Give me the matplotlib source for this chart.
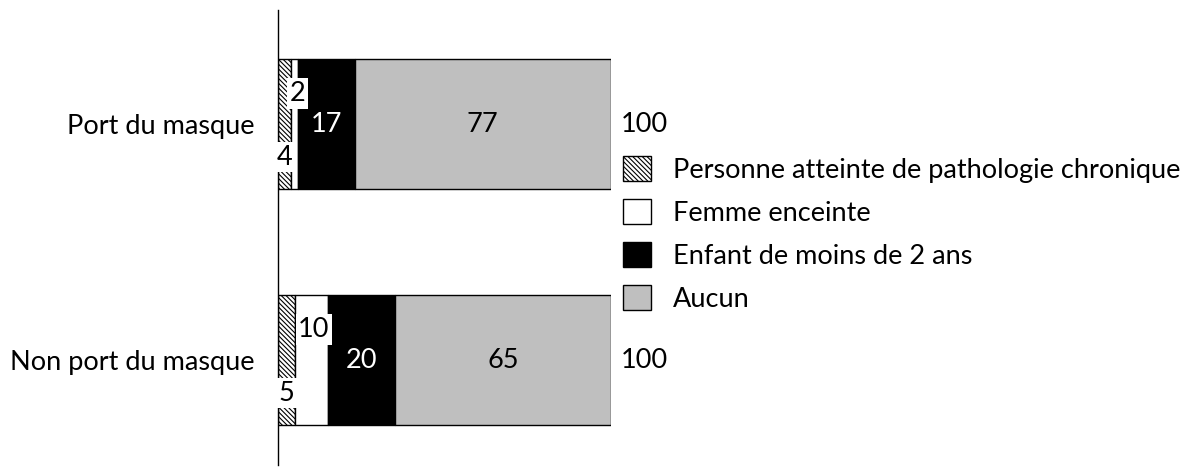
import matplotlib
matplotlib.use("Agg")
import matplotlib.pyplot as plt
from matplotlib.patches import Patch
import numpy as np

plt.rcParams['font.family'] = ['Lato', 'DejaVu Sans']
plt.rcParams['hatch.linewidth'] = 0.8

categories = ["Port du masque", "Non port du masque"]
series_names = ["Personne atteinte de pathologie chronique", "Femme enceinte",
                "Enfant de moins de 2 ans", "Aucun"]
values = {
    "Personne atteinte de pathologie chronique": [4, 5],
    "Femme enceinte": [2, 10],
    "Enfant de moins de 2 ans": [17, 20],
    "Aucun": [77, 65],
}
totals = [100, 100]

colors = ["white", "white", "black", "#bfbfbf"]
hatches = ["\\" * 7, None, None, None]
text_colors = ["black", "black", "white", "black"]

W, H = 1202, 475
fig = plt.figure(figsize=(W / 100, H / 100), dpi=100)
ax = fig.add_axes([278 / W, (H - 465) / H, 333 / W, 455 / H])

y = np.arange(len(categories))
left = np.zeros(len(categories))
FS = 19.5
for i, name in enumerate(series_names):
    vals = np.array(values[name], dtype=float)
    ax.barh(y, vals, left=left, height=0.55, color=colors[i],
            edgecolor="black", linewidth=1.0, hatch=hatches[i])
    for j, v in enumerate(vals):
        cx = left[j] + v / 2
        cy = y[j]
        if i == 0:
            ax.text(cx, cy + 0.14, f"{int(v)}", ha="center", va="center",
                    fontsize=FS, color="black",
                    bbox=dict(facecolor="white", edgecolor="none", pad=2))
        elif i == 1:
            ax.text(cx + 0.8, cy - 0.13, f"{int(v)}", ha="center", va="center",
                    fontsize=FS, color="black",
                    bbox=dict(facecolor="white", edgecolor="none", pad=2))
        else:
            ax.text(cx, cy, f"{int(v)}", ha="center", va="center",
                    fontsize=FS, color=text_colors[i])
    left += vals

for j, t in enumerate(totals):
    ax.text(left[j] + 3.0, y[j], f"{t}", ha="left", va="center", fontsize=FS)

ax.set_xlim(0, 100)
ax.set_ylim(1 + 105 / 236, -114 / 236)
ax.set_yticks(y)
ax.set_yticklabels(categories, fontsize=FS)
ax.tick_params(axis="y", length=0, pad=17)
ax.set_xticks([])
for s in ["top", "right", "bottom"]:
    ax.spines[s].set_visible(False)
ax.spines["left"].set_linewidth(1.0)

handles = [Patch(facecolor=colors[i], edgecolor="black", hatch=hatches[i])
           for i in range(len(series_names))]
leg = fig.legend(handles, series_names, loc="upper left",
                 bbox_to_anchor=(623 / W, 1 - 156 / H), frameon=False,
                 fontsize=FS, handlelength=1.05, handleheight=1.05,
                 handletextpad=0.8, labelspacing=0.6, borderaxespad=0,
                 borderpad=0)

fig.savefig("out.png", dpi=100)
